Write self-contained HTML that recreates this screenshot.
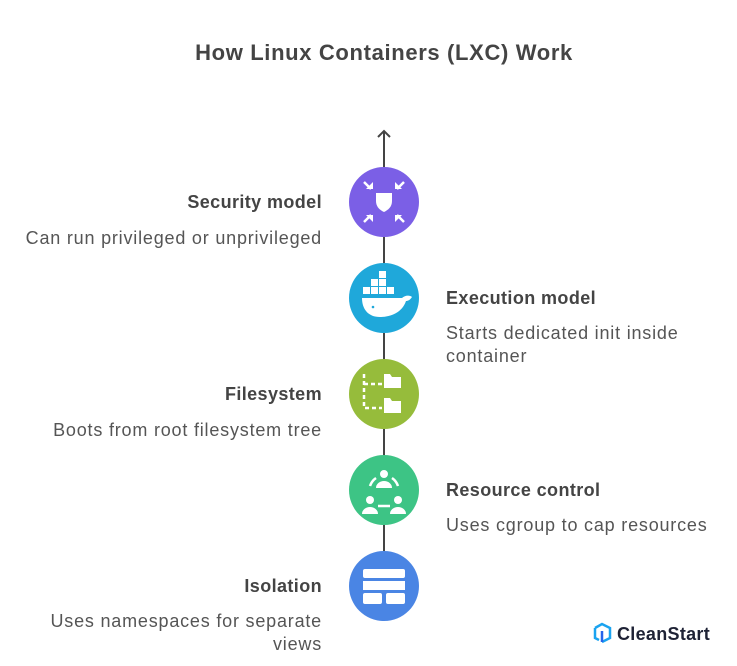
<!DOCTYPE html>
<html><head><style>
body{margin:0;width:737px;height:666px;background:#fff;font-family:"Liberation Sans",Arial,sans-serif;color:#444;position:relative;overflow:hidden}
.t{position:absolute;white-space:nowrap}
.h{font-weight:bold;font-size:18px;letter-spacing:0.4px;color:#444}
.d{font-size:18px;letter-spacing:0.8px;color:#555;line-height:23px}
.l{text-align:right;right:415px}
.r{left:446px}
</style></head><body>
<div class="t" style="left:0;width:768px;text-align:center;top:40px;font-size:22px;letter-spacing:0.65px;font-weight:bold;color:#444">How Linux Containers (LXC) Work</div>
<svg width="737" height="666" style="position:absolute;left:0;top:0">
<g stroke="#444" stroke-width="2" fill="none">
<line x1="384" y1="131" x2="384" y2="167"/>
<polyline points="378,137 384,131 390,137"/>
<line x1="384" y1="237" x2="384" y2="263"/>
<line x1="384" y1="333" x2="384" y2="359"/>
<line x1="384" y1="429" x2="384" y2="455"/>
<line x1="384" y1="525" x2="384" y2="551"/>
</g>
<circle cx="384" cy="202" r="35" fill="#7b5fe6"/>
<circle cx="384" cy="298" r="35" fill="#1fa8da"/>
<circle cx="384" cy="394" r="35" fill="#96bc3b"/>
<circle cx="384" cy="490" r="35" fill="#3dc485"/>
<circle cx="384" cy="586" r="35" fill="#4a85e4"/>
<g fill="#fff" stroke="#fff">
<path d="M376,193 h16 v8 c0,6 -4,9 -8,11 c-4,-2 -8,-5 -8,-11z" stroke="none"/>
<g stroke-width="2.5"><line x1="364" y1="182" x2="371" y2="189"/><line x1="404" y1="182" x2="397" y2="189"/><line x1="364" y1="222" x2="371" y2="215"/><line x1="404" y1="222" x2="397" y2="215"/></g>
<g stroke="none"><path d="M366,189 h7 v-7z"/><path d="M402,189 h-7 v-7z"/><path d="M366,215 h7 v7z"/><path d="M402,215 h-7 v7z"/></g>
<path d="M362,298 h40 c3,-3 8,-3 10,-1 c-2,3 -4,4 -6,4 c-4,12 -16,16 -26,16 c-12,0 -18,-8 -18,-19z" stroke="none"/>
<g stroke="none"><rect x="363" y="287" width="7" height="7"/><rect x="371" y="287" width="7" height="7"/><rect x="379" y="287" width="7" height="7"/><rect x="371" y="279" width="7" height="7"/><rect x="379" y="279" width="7" height="7"/><rect x="387" y="287" width="7" height="7"/><rect x="379" y="271" width="7" height="7"/></g>
<circle cx="373" cy="307" r="1.3" fill="#1fa8da" stroke="none"/>
<g stroke="none"><path d="M384,374 h6 l2,3 h9 v11 h-17z"/><path d="M384,398 h6 l2,3 h9 v12 h-17z"/></g>
<g stroke-width="2.5" stroke-dasharray="4,3" fill="none"><polyline points="364,374 364,408 382,408"/><line x1="364" y1="384" x2="382" y2="384"/></g>
<circle cx="384" cy="474" r="4" stroke="none"/><path d="M376,488 a8,7 0 0 1 16,0z" stroke="none"/>
<circle cx="370" cy="500" r="4" stroke="none"/><path d="M362,514 a8,7 0 0 1 16,0z" stroke="none"/>
<circle cx="398" cy="500" r="4" stroke="none"/><path d="M390,514 a8,7 0 0 1 16,0z" stroke="none"/>
<path d="M370,486 a16,16 0 0 1 6,-8 M392,478 a16,16 0 0 1 6,8 M378,506 h12" stroke-width="2.5" fill="none"/>
<g stroke="none"><rect x="363" y="569" width="42" height="9" rx="2"/><rect x="363" y="581" width="42" height="9"/><rect x="363" y="593" width="19" height="11" rx="2"/><rect x="386" y="593" width="19" height="11" rx="2"/></g>
</g>
<g transform="translate(593,623)" fill="none" stroke-width="2.5"><path d="M2,5 L9,1 L17,5 V15 L9,19" stroke="#1aa3f0"/><path d="M2,5 V15 L6,17" stroke="#1aa3f0"/><path d="M9,8 V19" stroke="#2563eb"/></g>
</svg>
<div class="t" style="left:617px;top:624px;font-size:18px;font-weight:bold;letter-spacing:0.3px;color:#1e2235">CleanStart</div>
<div class="t h l" style="top:192px">Security model</div>
<div class="t d l" style="top:227px">Can run privileged or unprivileged</div>
<div class="t h r" style="top:288px">Execution model</div>
<div class="t d r" style="top:322px">Starts dedicated init inside<br>container</div>
<div class="t h l" style="top:384px">Filesystem</div>
<div class="t d l" style="top:419px">Boots from root filesystem tree</div>
<div class="t h r" style="top:480px">Resource control</div>
<div class="t d r" style="top:514px">Uses cgroup to cap resources</div>
<div class="t h l" style="top:576px">Isolation</div>
<div class="t d l" style="top:610px;text-align:right">Uses namespaces for separate<br>views</div>
</body></html>
